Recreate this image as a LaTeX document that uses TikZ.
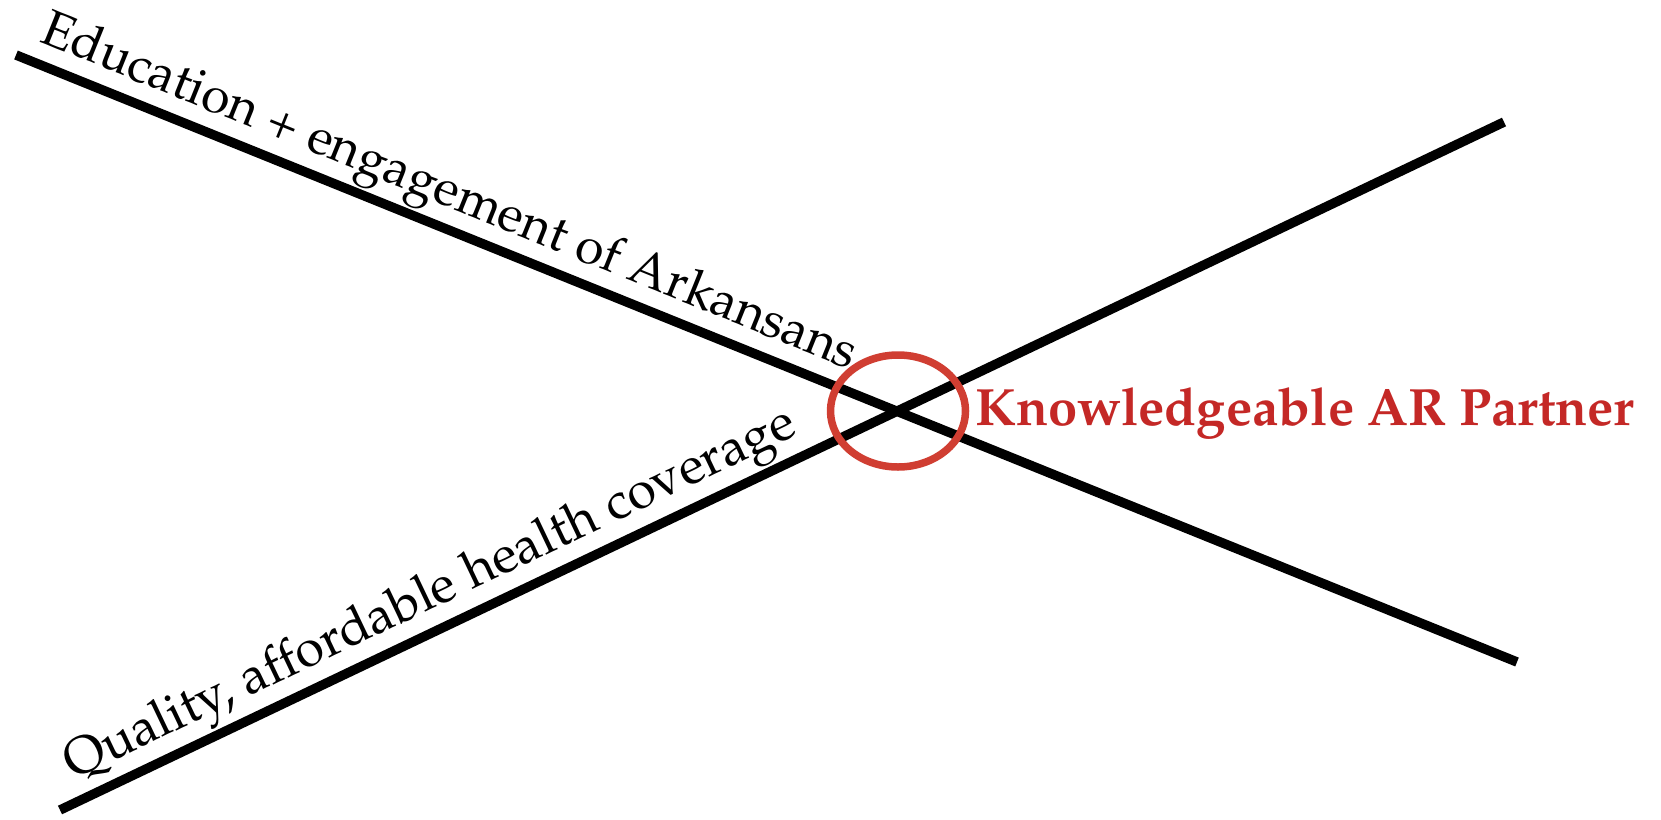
\documentclass[tikz,border=0pt]{standalone}
\usepackage[T1]{fontenc}
\usepackage{mathpazo}
\usetikzlibrary{shapes.geometric}
\definecolor{arred}{RGB}{208,62,50}
\definecolor{artext}{RGB}{196,40,38}
\begin{document}
\begin{tikzpicture}[x=1pt,y=-1pt,
  axis/.style={line width=9.5pt, black},
  lbl/.style={font=\fontsize{51}{55}\selectfont, sloped, above, inner sep=2pt}]
\useasboundingbox (0,0) rectangle (1661,819);
\coordinate (a1) at (16,55);
\coordinate (b1) at (1517,662);
\coordinate (a2) at (60,810);
\coordinate (b2) at (1504,122);
\draw[axis] (a1) -- node[lbl,pos=0.280] (t1) {Education + engagement of Arkansans} (b1);
\draw[axis] (a2) -- node[lbl,pos=0.267,font=\fontsize{52}{56}\selectfont] (t2) {Quality, affordable health coverage} (b2);
\node[draw=arred, line width=7.5pt, ellipse, minimum width=135pt, minimum height=112pt, inner sep=0] (c) at (898,411) {};
\node[anchor=base west, text=artext, font=\bfseries\fontsize{52.5}{56}\selectfont, inner sep=0] (k) at (975,425) {Knowledgeable AR Partner};
\end{tikzpicture}
\end{document}
